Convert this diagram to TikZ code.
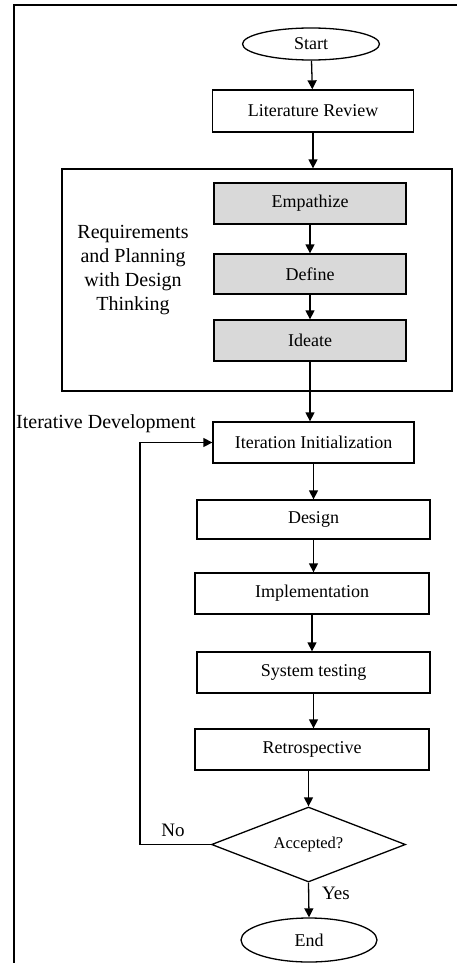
\documentclass[tikz,border=0pt]{standalone}
\usepackage{fontspec}
\setmainfont{Liberation Serif}
\usetikzlibrary{shapes.geometric}
\usetikzlibrary{arrows.meta}

\begin{document}
\begin{tikzpicture}[x=1pt,y=-1pt,
        box/.style={draw,line width=1.3pt,inner sep=0pt,minimum height=41pt,font=\fontsize{18}{21}\selectfont},
        dtbox/.style={box,fill=black!15,minimum width=192pt},
        term/.style={draw,ellipse,line width=1.3pt,inner sep=0pt,minimum width=137pt,font=\fontsize{18}{21}\selectfont},
        lbl/.style={inner sep=0pt,font=\fontsize{20}{24}\selectfont},
        arr/.style={line width=1.3pt,-{Triangle[length=9pt,width=9pt]}}]
            \useasboundingbox (0,0) rectangle (457,963);
            \draw[line width=2pt] (14,975) -- (14,5) -- (470,5);

            \node[term,minimum height=32pt] (start) at (311,44) {Start};
            \node[box,minimum width=201pt,minimum height=42pt] (lit) at (313,111) {Literature Review};

            \node[draw,line width=1.3pt,minimum width=390pt,minimum height=222pt] (plan) at (257,280) {};
            \node[dtbox] (emp) at (310,203.5) {Empathize};
            \node[dtbox,minimum height=40pt] (def) at (310,274) {Define};
            \node[dtbox] (ide) at (310,340.5) {Ideate};
            \node[lbl,align=center] (req) at (133,270) {Requirements\\and Planning\\with Design\\Thinking};

            \node[lbl,anchor=west] (itdev) at (16,424) {Iterative Development};
            \node[box,minimum width=201pt] (iter) at (313.5,442.5) {Iteration Initialization};
            \node[box,minimum width=233pt,minimum height=39pt] (des) at (313.5,519.5) {Design};
            \node[box,minimum width=234pt] (imp) at (312,593.5) {Implementation};
            \node[box,minimum width=233pt] (sys) at (313.5,672.5) {System testing};
            \node[box,minimum width=234pt] (retro) at (312,749.5) {Retrospective};
            \node[draw,diamond,aspect=2.6,line width=1.3pt,inner sep=0pt,minimum width=194pt,minimum height=75pt,font=\fontsize{16.5}{19}\selectfont] (acc) at (308.5,844.5) {Accepted?};
            \node[term,minimum width=136pt,minimum height=44pt] (end) at (309,940) {End};

            \node[lbl,font=\fontsize{19}{22}\selectfont] (no) at (173,830) {No};
            \node[lbl,font=\fontsize{19}{22}\selectfont] (yes) at (336,893) {Yes};

            \draw[arr] (start) -- (lit);
            \draw[arr] (lit.south) -- (lit.south |- plan.north);
            \draw[arr] (emp) -- (def);
            \draw[arr] (def) -- (ide);
            \draw[arr] (ide.south) -- (ide.south |- iter.north);
            \draw[arr] (iter) -- (iter |- des.north);
            \draw[arr] (des) -- (des |- imp.north);
            \draw[arr] (imp) -- (imp |- sys.north);
            \draw[arr] (sys) -- (sys |- retro.north);
            \draw[arr] (retro.south -| acc) -- (acc.north);
            \draw[arr] (acc.west) -- ++(-71,0) |- (iter.west);
            \draw[arr] (acc.south) -- (end.north);
        \end{tikzpicture}
\end{document}
